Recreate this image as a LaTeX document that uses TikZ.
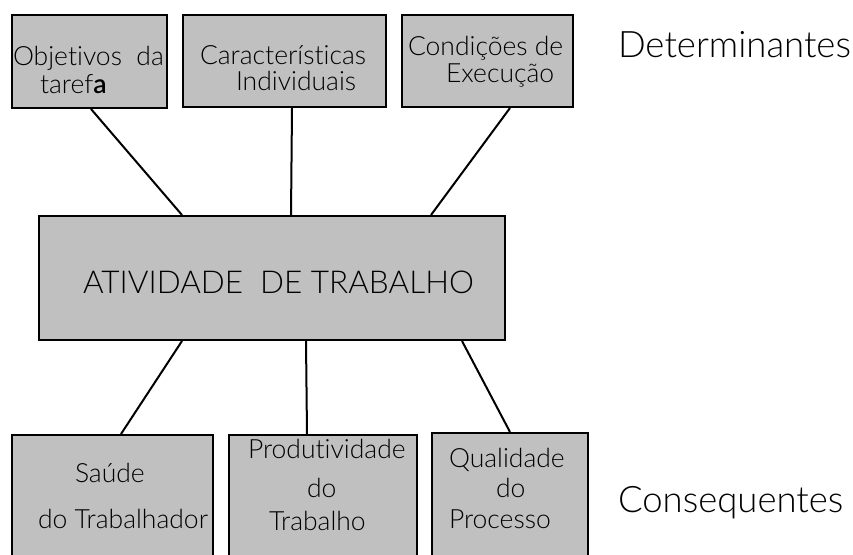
\documentclass[tikz,border=0pt]{standalone}
\usepackage{fontspec}
\setmainfont{Lato Light}[Ligatures=NoCommon]
\usetikzlibrary{calc}
\definecolor{cinza}{RGB}{192,192,192}

\begin{document}
\begin{tikzpicture}[x=1pt, y=-1pt, line width=2pt,
  caixa/.style={draw, fill=cinza, rectangle, inner sep=0pt},
  texto/.style={font=\fontsize{26.5}{28}\selectfont, inner sep=0pt, anchor=base west},
  rotulo/.style={font=\fontsize{36.5}{38}\selectfont, inner sep=0pt, anchor=base west}]
  \useasboundingbox (0,0) rectangle (853,554);
  \clip (0,0) rectangle (853,554);
  % Determinantes
  \node[caixa, minimum width=155pt, minimum height=93pt] (obj) at (89.5,61.5) {};
  \node[caixa, minimum width=203pt, minimum height=92pt] (car) at (284.5,61) {};
  \node[caixa, minimum width=171pt, minimum height=92pt] (cond) at (487.5,61) {};
  % Atividade
  \node[caixa, minimum width=466pt, minimum height=124pt] (ativ) at (272,278) {};
  % Consequentes
  \node[caixa, minimum width=201pt, minimum height=145pt] (saude) at (112.5,507.5) {};
  \node[caixa, minimum width=188pt, minimum height=145pt] (prod) at (323,507.5) {};
  \node[caixa, minimum width=156pt, minimum height=147pt] (qual) at (510,506.5) {};
  % texts
  \node[texto] (t1) at (12,65) {Objetivos\ \ da};
  \node[texto] (t2) at (39,93) {taref\textbf{a}};
  \node[texto] (t3) at (199,64) {Características};
  \node[texto] (t4) at (235,90) {Individuais};
  \node[texto] (t5) at (407,55) {Condições de};
  \node[texto] (t6) at (445,82) {Execução};
  \node[texto, font=\fontsize{31.5}{33}\selectfont] (t7) at (82,293) {ATIVIDADE\ \ DE TRABALHO};
  \node[texto] (t8) at (74,482) {Saúde};
  \node[texto] (t9) at (37,528) {do Trabalhador};
  \node[texto] (t10) at (247,458) {Produtividade};
  \node[texto] (t11) at (306,497) {do};
  \node[texto] (t12) at (268,530) {Trabalho};
  \node[texto] (t13) at (448,467) {Qualidade};
  \node[texto] (t14) at (495,497) {do};
  \node[texto] (t15) at (448,528) {Processo};
  \node[rotulo] (det) at (617,57) {Determinantes};
  \node[rotulo] (cons) at (617,512) {Consequentes};
  % Draw the relations
  \draw ($(obj.south)+(1.5,0)$) -- ($(ativ.north west)+(144,0)$);
  \draw ($(car.south)+(7.5,0)$) -- ($(ativ.north west)+(253,0)$);
  \draw ($(cond.south)+(22.5,0)$) -- ($(ativ.north west)+(393,0)$);
  \draw ($(ativ.south west)+(144,0)$) -- ($(saude.north)+(8.5,0)$);
  \draw ($(ativ.south west)+(268,0)$) -- ($(prod.north)+(-16,0)$);
  \draw ($(ativ.south west)+(424,0)$) -- (qual.north);
\end{tikzpicture}
\end{document}
